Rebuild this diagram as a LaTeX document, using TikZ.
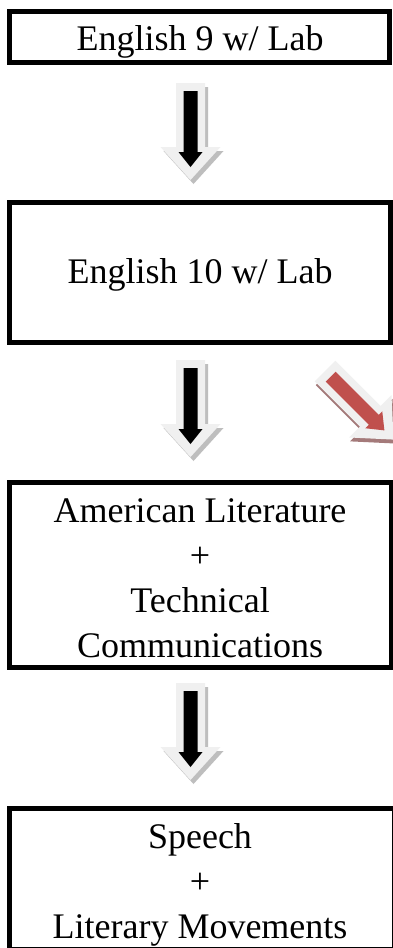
\documentclass[tikz,border=0pt]{standalone}
\usepackage{fontspec}
\setmainfont{Liberation Serif}

\definecolor{arrowrim}{HTML}{F0F0F0}
\definecolor{arrowshadow}{HTML}{BEBEBE}
\definecolor{redcore}{HTML}{C0504D}
\definecolor{redshadow}{HTML}{A47A7A}

\tikzset{
  box/.style={draw=black, line width=5pt, fill=white, inner sep=0pt},
  lbl/.style={anchor=base, inner sep=0pt, font=\fontsize{36}{45}\selectfont},
  % block arrow: top centre at the pic origin, pointing down (local y grows downwards)
  % #1 core colour, #2 shadow colour, #3 shadow offset
  pics/blockarrow/.style n args={3}{code={
    \fill[#2, shift={#3}] (-14.5,0) -- (14.5,0) -- (14.5,64) -- (30,64) -- (0,97)
      -- (-30,64) -- (-14.5,64) -- cycle;
    \fill[arrowrim] (-14.5,0) -- (14.5,0) -- (14.5,64) -- (30,64) -- (0,97)
      -- (-30,64) -- (-14.5,64) -- cycle;
    \fill[#1] (-7,8) -- (7,8) -- (7,69) -- (12,69) -- (0,84)
      -- (-12,69) -- (-7,69) -- cycle;
  }}
}

\begin{document}
\begin{tikzpicture}[x=1pt, y=-1pt]
  \useasboundingbox (0,0) rectangle (393,948);
  \fill[white] (0,0) rectangle (393,948);

  % course boxes
  \node[box, minimum width=380pt, minimum height=51pt]  (b1) at (199.5,37) {};
  \node[box, minimum width=381pt, minimum height=140pt] (b2) at (200,272.5) {};
  \node[box, minimum width=382pt, minimum height=185pt] (b3) at (200.5,575) {};
  \node[box, minimum width=385pt, minimum height=141pt] (b4) at (202,879) {};

  % heavier left edges
  \foreach \b in {b1,b2,b3,b4}
    \draw[line width=2pt] ([xshift=3.5pt]\b.north west) -- ([xshift=3.5pt]\b.south west);

  % labels
  \node[lbl] (t1)  at (200,50)  {English 9 w/ Lab};
  \node[lbl] (t2)  at (200,283) {English 10 w/ Lab};
  \node[lbl] (t3a) at (200,522) {American Literature};
  \node[lbl] (t3b) at (200,567) {+};
  \node[lbl] (t3c) at (200,612) {Technical};
  \node[lbl] (t3d) at (200,657) {Communications};
  \node[lbl] (t4a) at (200,848) {Speech};
  \node[lbl] (t4b) at (200,893) {+};
  \node[lbl] (t4c) at (200,938) {Literary Movements};

  % arrows between the boxes
  \pic at (190.5,83)  {blockarrow={black}{arrowshadow}{(3,4)}};
  \pic at (190.5,360) {blockarrow={black}{arrowshadow}{(3,4)}};
  \pic at (190.5,683) {blockarrow={black}{arrowshadow}{(3,4)}};
  \pic[rotate=45] at (325,371) {blockarrow={redcore}{redshadow}{(-2,3.5)}};
\end{tikzpicture}
\end{document}
